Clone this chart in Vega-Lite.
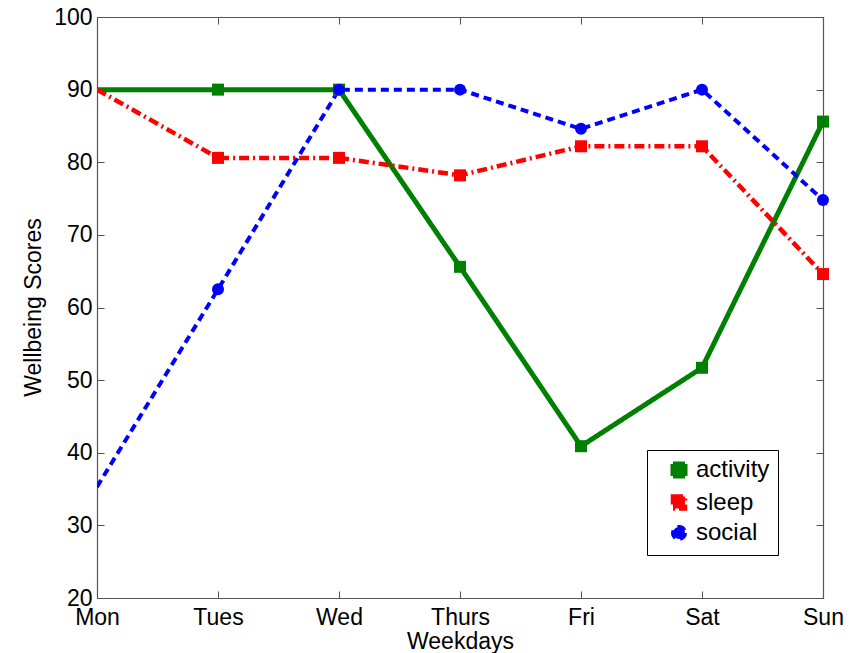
{
  "$schema": "https://vega.github.io/schema/vega-lite/v6.json",
  "autosize": {"type": "none"},
  "padding": {"left": 97, "top": 17, "right": 40, "bottom": 55},
  "width": 726,
  "height": 581,
  "background": "white",
  "config": {
    "view": {"stroke": null},
    "font": "Liberation Sans",
    "axis": {
      "grid": false,
      "domainColor": "#555555",
      "domainWidth": 1.2,
      "tickColor": "#555555",
      "tickWidth": 1,
      "labelFont": "Liberation Sans",
      "labelColor": "#000000",
      "labelFontSize": 23,
      "titleFont": "Liberation Sans",
      "titleColor": "#000000",
      "titleFontSize": 23,
      "titleFontWeight": "normal"
    }
  },
  "data": {
    "values": [
      {"day": "Mon", "series": "activity", "score": 90},
      {"day": "Tues", "series": "activity", "score": 90},
      {"day": "Wed", "series": "activity", "score": 90},
      {"day": "Thurs", "series": "activity", "score": 65.6},
      {"day": "Fri", "series": "activity", "score": 40.9},
      {"day": "Sat", "series": "activity", "score": 51.7},
      {"day": "Sun", "series": "activity", "score": 85.6},
      {"day": "Mon", "series": "sleep", "score": 90},
      {"day": "Tues", "series": "sleep", "score": 80.6},
      {"day": "Wed", "series": "sleep", "score": 80.6},
      {"day": "Thurs", "series": "sleep", "score": 78.2},
      {"day": "Fri", "series": "sleep", "score": 82.2},
      {"day": "Sat", "series": "sleep", "score": 82.2},
      {"day": "Sun", "series": "sleep", "score": 64.6},
      {"day": "Mon", "series": "social", "score": 35.3},
      {"day": "Tues", "series": "social", "score": 62.5},
      {"day": "Wed", "series": "social", "score": 90},
      {"day": "Thurs", "series": "social", "score": 90},
      {"day": "Fri", "series": "social", "score": 84.6},
      {"day": "Sat", "series": "social", "score": 90},
      {"day": "Sun", "series": "social", "score": 74.8}
    ]
  },
  "layer": [
    {
      "mark": {"type": "line", "clip": true},
      "encoding": {
        "x": {
          "field": "day", "type": "ordinal",
          "scale": {"type": "point", "padding": 0, "domain": ["Mon", "Tues", "Wed", "Thurs", "Fri", "Sat", "Sun"]},
          "axis": {"orient": "bottom", "title": "Weekdays", "labelAngle": 0, "tickSize": -7, "labelPadding": 15, "titleY": 50.5, "titleBaseline": "alphabetic", "titlePadding": 0}
        },
        "y": {
          "field": "score", "type": "quantitative",
          "scale": {"domain": [20, 100], "nice": false, "zero": false},
          "axis": {"orient": "left", "title": "Wellbeing Scores", "values": [20, 30, 40, 50, 60, 70, 80, 90, 100], "tickSize": -7, "labelPadding": 12, "titleX": -64, "titleY": 290, "titleAngle": -90, "titleBaseline": "middle", "titleAlign": "center"}
        },
        "color": {
          "field": "series", "type": "nominal",
          "scale": {"domain": ["activity", "sleep", "social"], "range": ["#008000", "#ff0000", "#0000ff"]},
          "legend": {
            "orient": "none", "legendX": 550, "legendY": 433,
            "title": null,
            "strokeColor": "#000000", "fillColor": "#ffffff",
            "padding": 8,
            "labelFont": "Liberation Sans", "labelFontSize": 24, "labelColor": "#000000",
            "symbolSize": 100, "symbolOffset": 12, "labelOffset": 5, "rowPadding": 1.5
          }
        },
        "strokeDash": {
          "field": "series", "type": "nominal",
          "scale": {"domain": ["activity", "sleep", "social"], "range": [[1, 0], [10, 4, 2, 4], [8, 5]]},
          "legend": null
        },
        "strokeWidth": {
          "field": "series", "type": "nominal",
          "scale": {"domain": ["activity", "sleep", "social"], "range": [5, 4, 5]},
          "legend": null
        }
      }
    },
    {
      "transform": [{"filter": "datum.day !== 'Mon'"}],
      "mark": {"type": "point", "filled": true, "opacity": 1},
      "encoding": {
        "x": {
          "field": "day", "type": "ordinal",
          "scale": {"type": "point", "padding": 0, "domain": ["Mon", "Tues", "Wed", "Thurs", "Fri", "Sat", "Sun"]},
          "axis": {"orient": "top", "title": null, "labels": false, "tickSize": -7}
        },
        "y": {
          "field": "score", "type": "quantitative",
          "scale": {"domain": [20, 100], "nice": false, "zero": false},
          "axis": {"orient": "right", "title": null, "labels": false, "values": [20, 30, 40, 50, 60, 70, 80, 90, 100], "tickSize": -7}
        },
        "color": {"field": "series", "type": "nominal", "legend": null},
        "shape": {
          "field": "series", "type": "nominal",
          "scale": {"domain": ["activity", "sleep", "social"], "range": ["square", "square", "circle"]},
          "legend": null
        },
        "size": {
          "field": "series", "type": "nominal",
          "scale": {"domain": ["activity", "sleep", "social"], "range": [144, 144, 135]},
          "legend": null
        }
      }
    }
  ],
  "resolve": {"axis": {"x": "independent", "y": "independent"}}
}
